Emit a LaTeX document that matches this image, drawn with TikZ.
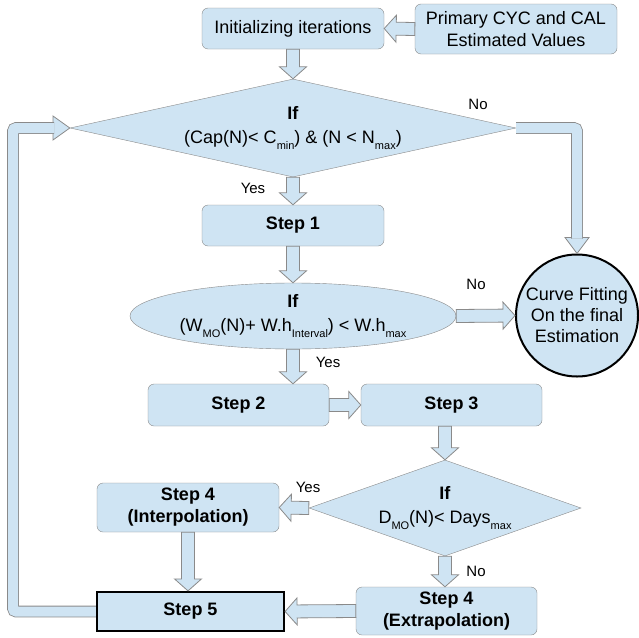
\documentclass[tikz,border=0pt]{standalone}
\usepackage{fontspec}
\setmainfont{Liberation Sans}
\usetikzlibrary{shapes.geometric,calc}
\definecolor{boxblue}{RGB}{207,228,243}
\definecolor{edgegray}{RGB}{138,138,138}
\newcommand{\lsub}[1]{\raisebox{-0.55ex}{\fontsize{11}{11}\selectfont #1}}

\begin{document}
\begin{tikzpicture}[x=1pt, y=-1pt,
  box/.style={draw=edgegray, fill=boxblue, rounded corners=6pt, inner sep=0pt, align=center, font=\fontsize{18}{22}\selectfont},
  stepbox/.style={box, font=\fontsize{18}{22}\selectfont\bfseries},
  ifnode/.style={draw=edgegray, fill=boxblue, inner sep=0pt, align=center, font=\fontsize{18}{24}\selectfont},
  lbl/.style={font=\fontsize{15}{15}\selectfont, inner sep=0pt},
  barrow/.style={draw=edgegray, fill=boxblue, line width=0.8pt,
    to path={($(\tikztotarget)!12pt!(\tikztostart)$) coordinate (hb)
      ($(\tikztostart)!6.5pt!90:(\tikztotarget)$) -- ($(hb)!6.5pt!90:(\tikztotarget)$) -- ($(hb)!13.5pt!90:(\tikztotarget)$)
      -- (\tikztotarget) -- ($(hb)!13.5pt!-90:(\tikztotarget)$) -- ($(hb)!6.5pt!-90:(\tikztotarget)$)
      -- ($(\tikztostart)!6.5pt!-90:(\tikztotarget)$) -- cycle}},
  bhead/.style={draw=edgegray, fill=boxblue, line width=0.8pt,
    to path={($(\tikztostart)!12pt!90:(\tikztotarget)$) -- (\tikztotarget) -- ($(\tikztostart)!12pt!-90:(\tikztotarget)$) -- cycle}},
  band/.style={draw=edgegray, double=boxblue, double distance=10pt, line width=0.8pt, rounded corners=3pt}]
\useasboundingbox (0,0) rectangle (639,637);

% boxes
\node[box, minimum width=182pt, minimum height=41pt] (init) at (293,28.5) {Initializing iterations};
\node[box, minimum width=202pt, minimum height=50pt] (prim) at (516,29) {Primary CYC and CAL\\Estimated Values};
\node[ifnode, diamond, aspect=4.55, minimum width=446pt, minimum height=98pt] (capif) at (293,128) {\textbf{If}\\(Cap(N)< C\lsub{min}) \& (N < N\lsub{max})};
\node[stepbox, minimum width=182pt, minimum height=41pt] (step1) at (293,225.5) {Step 1};
\node[ifnode, ellipse, minimum width=326pt, minimum height=66pt] (whif) at (293,316) {\textbf{If}\\(W\lsub{MO}(N)+ W.h\lsub{Interval}) < W.h\lsub{max}};
\node[ifnode, circle, draw=black, line width=2pt, minimum size=122pt, font=\fontsize{18}{21}\selectfont] (fit) at (577,315.5) {Curve Fitting\\On the final\\Estimation};
\node[stepbox, minimum width=181pt, minimum height=42pt] (step2) at (238.5,405) {Step 2};
\node[stepbox, minimum width=181pt, minimum height=42pt] (step3) at (451.5,405) {Step 3};
\node[ifnode, diamond, aspect=2.83, minimum width=272pt, minimum height=96pt] (dayif) at (445,508) {\textbf{If}\\D\lsub{MO}(N)< Days\lsub{max}};
\node[stepbox, minimum width=182pt, minimum height=49pt] (interp) at (188,507.5) {Step 4\\(Interpolation)};
\node[stepbox, sharp corners, draw=black, line width=2.2pt, minimum width=187pt, minimum height=39pt] (step5) at (190.5,611.5) {Step 5};
\node[stepbox, minimum width=181pt, minimum height=48pt] (extrap) at (446.5,611) {Step 4\\(Extrapolation)};

% labels
\node[lbl] (no1) at (478,104) {No};
\node[lbl] (yes1) at (253,188) {Yes};
\node[lbl] (no2) at (476,284) {No};
\node[lbl] (yes2) at (328,362) {Yes};
\node[lbl] (yes3) at (308,487) {Yes};
\node[lbl] (no3) at (476,571) {No};

% arrows
\draw[barrow] (prim.west) to (init.east);
\draw[barrow] (init.south) to (capif.north);
\draw[barrow] (capif.south) to (step1.north);
\draw[barrow] (step1.south) to (whif.north);
\draw[barrow] (whif.east) to (fit.west);
\draw[barrow] (whif.south) to (whif.south |- step2.north);
\draw[barrow] (step2.east) to (step3.west);
\draw[barrow] (step3.south -| dayif.north) to (dayif.north);
\draw[barrow] (dayif.west) to (interp.east);
\draw[barrow] (dayif.south) to (dayif.south |- extrap.north);
\draw[barrow] (interp.south) to (interp.south |- step5.north);
\draw[barrow] (extrap.west) to (step5.east);

% loop back and the No branch
\coordinate (loopturn) at (13,128);
\coordinate (loophb) at (53,128);
\draw[bhead] (loophb) to (capif.west);
\draw[band] (step5.west) -| (loopturn) -- ($(loophb)+(1,0)$);
\coordinate (nohb) at ($(fit.north)+(0,-16)$);
\draw[bhead] (nohb) to (fit.north);
\draw[band] (capif.east) -| ($(nohb)+(0,1)$);
\end{tikzpicture}
\end{document}
